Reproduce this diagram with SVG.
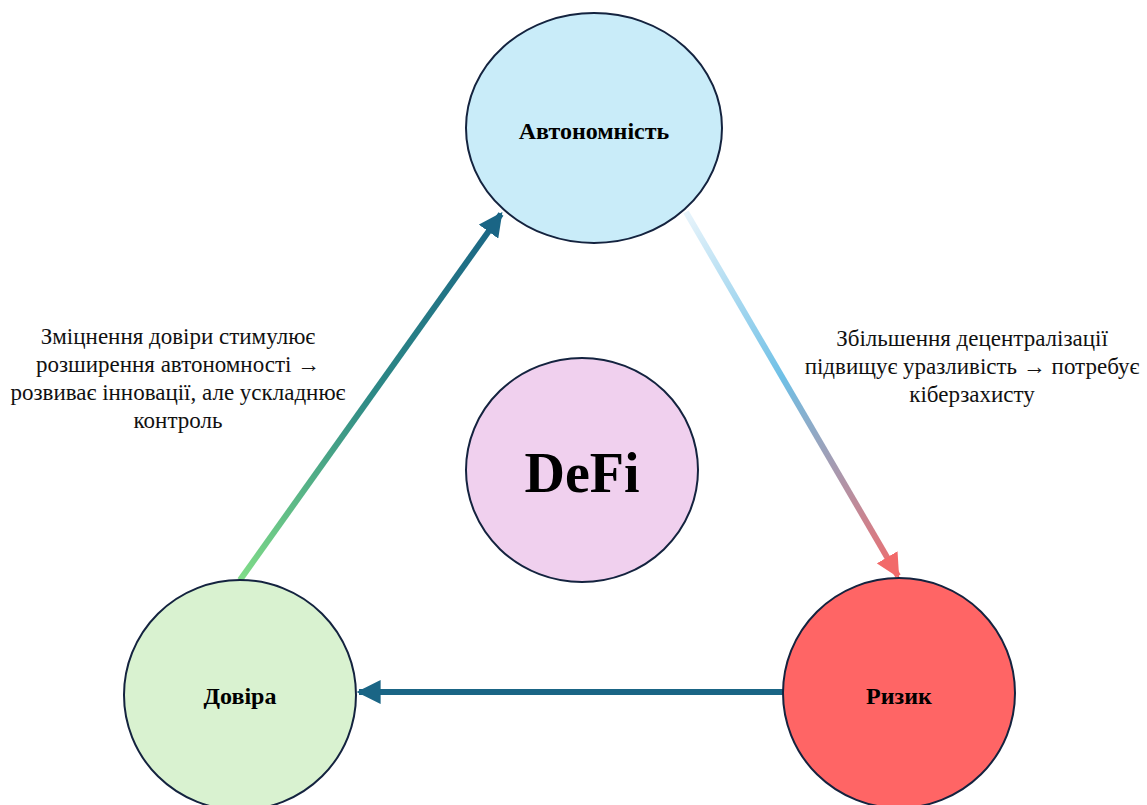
<svg xmlns="http://www.w3.org/2000/svg" width="1147" height="805" viewBox="0 0 1147 805">
<defs>
<style>
.node{stroke:#14233f;stroke-width:2}
.lbl{font-family:"Liberation Serif",serif;font-weight:bold;font-size:24px;fill:#000;text-anchor:middle}
.cap{font-family:"Liberation Serif",serif;font-size:23px;fill:#111;text-anchor:middle}
.conn{fill:none;stroke-width:6}
</style>
<linearGradient id="g1" gradientUnits="userSpaceOnUse" x1="240" y1="580" x2="500" y2="216">
<stop offset="0" stop-color="#80dc88"/>
<stop offset="0.5" stop-color="#2e8a86"/>
<stop offset="1" stop-color="#1a6585"/>
</linearGradient>
<linearGradient id="g2" gradientUnits="userSpaceOnUse" x1="686" y1="212" x2="899" y2="578">
<stop offset="0" stop-color="#e8f4fb"/>
<stop offset="0.45" stop-color="#6fc0e6"/>
<stop offset="0.7" stop-color="#a69ab0"/>
<stop offset="1" stop-color="#f26a6a"/>
</linearGradient>
<marker id="ah1" viewBox="0 0 10 10" refX="9" refY="5" markerWidth="4" markerHeight="4" orient="auto" markerUnits="strokeWidth"><path d="M0,0 L10,5 L0,10 z" fill="#1a6585"/></marker>
<marker id="ah2" viewBox="0 0 10 10" refX="9" refY="5" markerWidth="4" markerHeight="4" orient="auto" markerUnits="strokeWidth"><path d="M0,0 L10,5 L0,10 z" fill="#f26a6a"/></marker>
</defs>
<rect width="1147" height="805" fill="#fff"/>
<g id="connectors">
<path class="conn" d="M240,580 L501,214" stroke="url(#g1)" marker-end="url(#ah1)"/>
<path class="conn" d="M686,212 L898,576" stroke="url(#g2)" marker-end="url(#ah2)"/>
<path class="conn" d="M783,692 L359,692" stroke="#1a6585" marker-end="url(#ah1)"/>
</g>
<g id="n-autonomy">
<ellipse class="node" cx="594" cy="128" rx="128" ry="115" fill="#c9ecf9"/>
<text class="lbl" x="594" y="139">Автономність</text>
</g>
<g id="n-defi">
<ellipse class="node" cx="582" cy="470" rx="116" ry="112" fill="#f0d0ee"/>
<text class="lbl" x="582" y="492" style="font-size:56px">DeFi</text>
</g>
<g id="n-trust">
<ellipse class="node" cx="240" cy="695" rx="116" ry="115" fill="#d9f2d0"/>
<text class="lbl" x="240" y="704">Довіра</text>
</g>
<g id="n-risk">
<ellipse class="node" cx="899" cy="693" rx="116" ry="115" fill="#ff6565"/>
<text class="lbl" x="899" y="704">Ризик</text>
</g>
<g id="caption-left">
<text class="cap" x="178" y="344">Зміцнення довіри стимулює</text>
<text class="cap" x="178" y="372">розширення автономності →</text>
<text class="cap" x="178" y="400">розвиває інновації, але ускладнює</text>
<text class="cap" x="178" y="428">контроль</text>
</g>
<g id="caption-right">
<text class="cap" x="972" y="346">Збільшення децентралізації</text>
<text class="cap" x="972" y="374">підвищує уразливість → потребує</text>
<text class="cap" x="972" y="402">кіберзахисту</text>
</g>
</svg>
